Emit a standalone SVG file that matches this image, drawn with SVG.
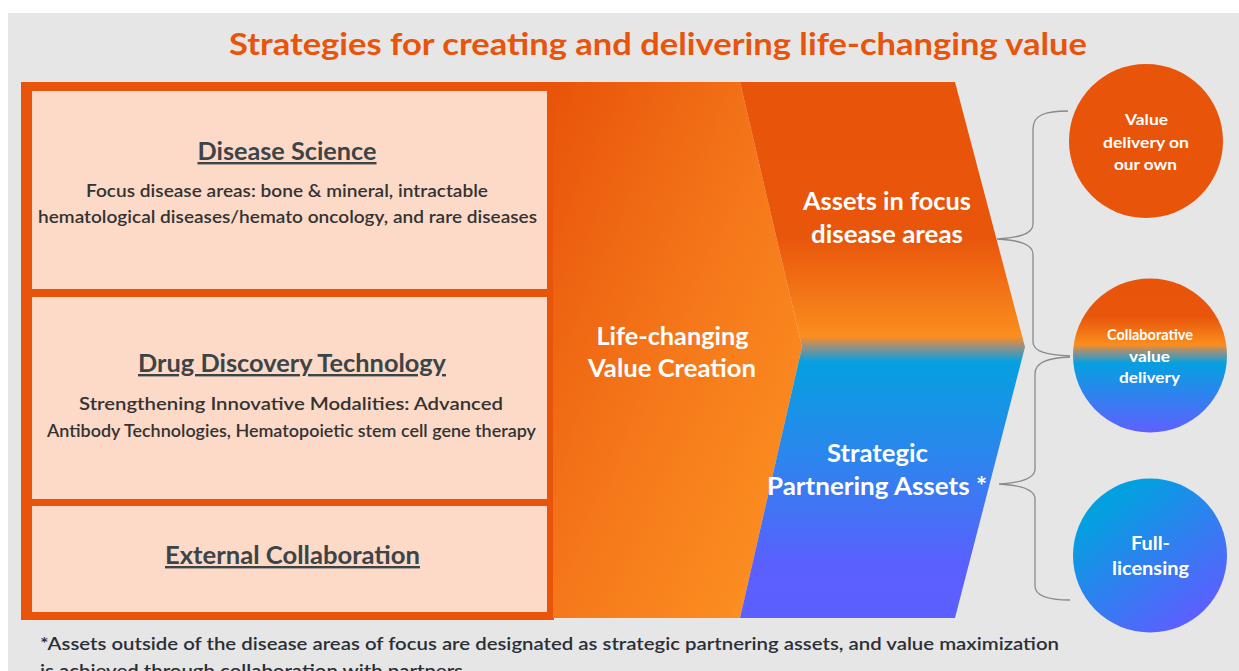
<svg xmlns="http://www.w3.org/2000/svg" width="1239" height="671" viewBox="0 0 1239 671">
<defs>
<style>
.t{font-family:Lato,"Carlito","Open Sans",sans-serif;}
.h{font-family:Lato,"Open Sans",sans-serif;font-weight:700;font-size:24px;fill:#3d4448;text-decoration:underline;}
.b{font-family:Lato,"Open Sans",sans-serif;font-size:18px;font-weight:600;fill:#333;}
.w{font-family:Lato,"Open Sans",sans-serif;font-weight:700;fill:#fff;}
.brace{fill:none;stroke:#8a8a8a;stroke-width:1.3;}
</style>
<linearGradient id="gLeft" x1="0" y1="0" x2="1" y2="1">
<stop offset="0" stop-color="#E8540A"/>
<stop offset="0.5" stop-color="#F5781A"/>
<stop offset="0.85" stop-color="#FB8C20"/>
<stop offset="1" stop-color="#FFA535"/>
</linearGradient>
<linearGradient id="gRight" gradientUnits="userSpaceOnUse" x1="0" y1="83" x2="0" y2="617">
<stop offset="0" stop-color="#E8540A"/>
<stop offset="0.29" stop-color="#E8560B"/>
<stop offset="0.475" stop-color="#FB8E1E"/>
<stop offset="0.492" stop-color="#A0907A"/>
<stop offset="0.522" stop-color="#05A0E0"/>
<stop offset="0.71" stop-color="#2E84EE"/>
<stop offset="0.9" stop-color="#5A60FE"/>
<stop offset="1" stop-color="#5C5FFF"/>
</linearGradient>
<linearGradient id="gC2" x1="0" y1="0" x2="0" y2="1">
<stop offset="0" stop-color="#E8540A"/>
<stop offset="0.25" stop-color="#E8560B"/>
<stop offset="0.43" stop-color="#FB8E1E"/>
<stop offset="0.47" stop-color="#A0907A"/>
<stop offset="0.55" stop-color="#05A0E0"/>
<stop offset="1" stop-color="#5F60FF"/>
</linearGradient>
<linearGradient id="gC3" x1="0.25" y1="0.15" x2="0.8" y2="0.9">
<stop offset="0" stop-color="#03A0E0"/>
<stop offset="1" stop-color="#5C5FFF"/>
</linearGradient>
</defs>
<rect x="0" y="0" width="1239" height="671" fill="#ffffff"/>
<rect x="8" y="13" width="1231" height="658" fill="#e6e6e6"/>
<text class="t" x="658" y="55" text-anchor="middle" font-size="30" font-weight="700" fill="#E8540A" textLength="858" lengthAdjust="spacingAndGlyphs">Strategies for creating and delivering life-changing value</text>

<g id="left-frame">
<rect x="21" y="82" width="533" height="538" fill="#E8540A"/>
</g>
<g id="disease-science">
<rect x="32" y="91" width="515" height="198" fill="#FCDAC7"/>
<text class="h" x="287" y="160" text-anchor="middle" textLength="179" lengthAdjust="spacingAndGlyphs">Disease Science</text>
<text class="b" x="287" y="197" text-anchor="middle" textLength="402" lengthAdjust="spacingAndGlyphs">Focus disease areas: bone &amp; mineral, intractable</text>
<text class="b" x="287.5" y="223" text-anchor="middle" textLength="499" lengthAdjust="spacingAndGlyphs">hematological diseases/hemato oncology, and rare diseases</text>
</g>
<g id="drug-discovery">
<rect x="32" y="297" width="515" height="202" fill="#FCDAC7"/>
<text class="h" x="292" y="372" text-anchor="middle" textLength="308" lengthAdjust="spacingAndGlyphs">Drug Discovery Technology</text>
<text class="b" x="291" y="410" text-anchor="middle" textLength="424" lengthAdjust="spacingAndGlyphs">Strengthening Innovative Modalities: Advanced</text>
<text class="b" x="291.5" y="437" text-anchor="middle" textLength="489" lengthAdjust="spacingAndGlyphs">Antibody Technologies, Hematopoietic stem cell gene therapy</text>
</g>
<g id="external-collaboration">
<rect x="32" y="506" width="515" height="106" fill="#FCDAC7"/>
<text class="h" x="292.5" y="564" text-anchor="middle" textLength="255" lengthAdjust="spacingAndGlyphs">External Collaboration</text>
</g>

<g id="value-creation">
<path d="M553,82 L740,82 L802,347 L740,618 L553,618 Z" fill="url(#gLeft)"/>
<text class="w" x="672.5" y="345" text-anchor="middle" font-size="25" textLength="152" lengthAdjust="spacingAndGlyphs">Life-changing</text>
<text class="w" x="672" y="377" text-anchor="middle" font-size="25" textLength="168" lengthAdjust="spacingAndGlyphs">Value Creation</text>
</g>
<g id="assets">
<path d="M740,82 L955,82 L1025,347 L955,618 L740,618 L802,347 Z" fill="url(#gRight)"/>
<text class="w" x="887" y="210" text-anchor="middle" font-size="24" textLength="168" lengthAdjust="spacingAndGlyphs">Assets in focus</text>
<text class="w" x="887" y="243" text-anchor="middle" font-size="24" textLength="152" lengthAdjust="spacingAndGlyphs">disease areas</text>
<text class="w" x="877.5" y="462" text-anchor="middle" font-size="24" textLength="101" lengthAdjust="spacingAndGlyphs">Strategic</text>
<text class="w" x="877" y="495" text-anchor="middle" font-size="24" textLength="220" lengthAdjust="spacingAndGlyphs">Partnering Assets *</text>
</g>

<g id="connectors">
<path class="brace" d="M1068,111 C1045,111 1033,115 1033,129 L1033,224 C1033,235 1016,238 997,239 C1016,240 1033,243 1033,254 L1033,342 C1033,352 1048,355 1070,356"/>
<path class="brace" d="M1070,357 C1048,358 1035,362 1035,374 L1035,469 C1035,480 1016,483 999,484 C1016,485 1035,488 1035,499 L1035,586 C1035,596 1048,600 1070,600"/>
</g>

<g id="own">
<circle cx="1146" cy="141" r="77" fill="#E8540A"/>
<text class="w" x="1146.5" y="125" text-anchor="middle" font-size="16" textLength="43" lengthAdjust="spacingAndGlyphs">Value</text>
<text class="w" x="1146" y="148" text-anchor="middle" font-size="16" textLength="86" lengthAdjust="spacingAndGlyphs">delivery on</text>
<text class="w" x="1145.5" y="170" text-anchor="middle" font-size="16" textLength="63" lengthAdjust="spacingAndGlyphs">our own</text>
</g>
<g id="collaborative">
<circle cx="1150" cy="355.5" r="77" fill="url(#gC2)"/>
<text class="w" x="1150" y="340" text-anchor="middle" font-size="15" textLength="86" lengthAdjust="spacingAndGlyphs">Collaborative</text>
<text class="w" x="1149.5" y="362" text-anchor="middle" font-size="15" textLength="41" lengthAdjust="spacingAndGlyphs">value</text>
<text class="w" x="1149.5" y="383" text-anchor="middle" font-size="15" textLength="61" lengthAdjust="spacingAndGlyphs">delivery</text>
</g>
<g id="licensing">
<circle cx="1150" cy="555.5" r="77" fill="url(#gC3)"/>
<text class="w" x="1150.5" y="550" text-anchor="middle" font-size="19" textLength="39" lengthAdjust="spacingAndGlyphs">Full-</text>
<text class="w" x="1150.5" y="575" text-anchor="middle" font-size="19" textLength="77" lengthAdjust="spacingAndGlyphs">licensing</text>
</g>

<text class="t" x="40" y="650" font-size="18" font-weight="600" fill="#2b2f36" textLength="1019" lengthAdjust="spacingAndGlyphs">*Assets outside of the disease areas of focus are designated as strategic partnering assets, and value maximization</text>
<text class="t" x="40" y="677" font-size="18" font-weight="600" fill="#2b2f36" textLength="423" lengthAdjust="spacingAndGlyphs">is achieved through collaboration with partners</text>
</svg>
